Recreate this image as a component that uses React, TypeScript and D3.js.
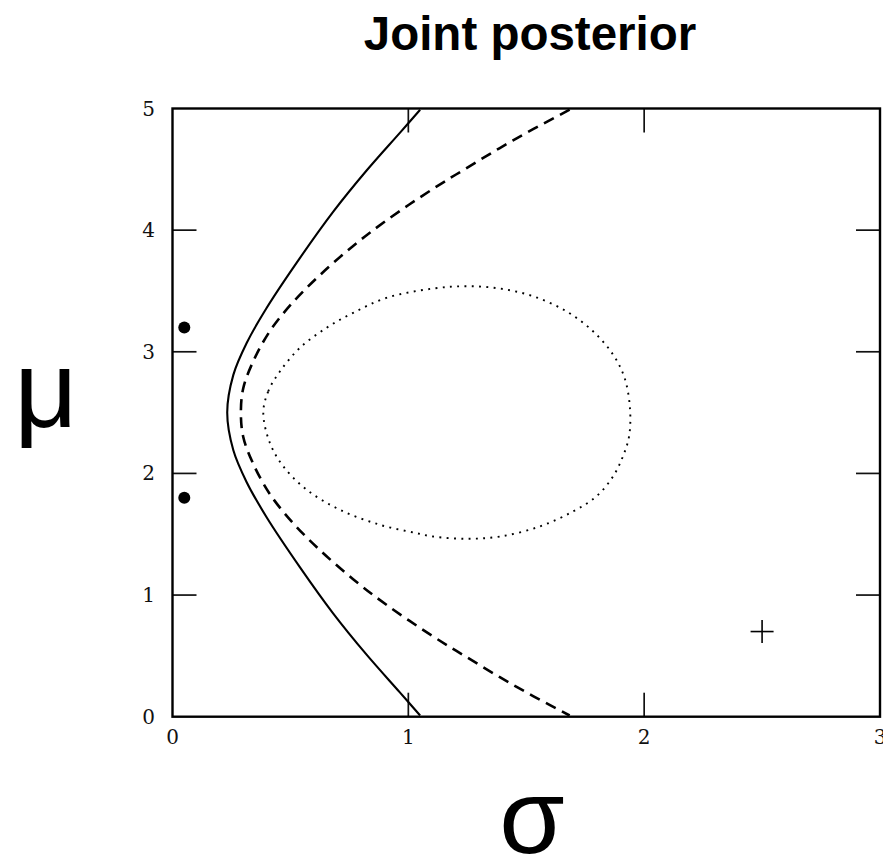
import React from "react";
import * as d3 from "d3";

// Contour lines of the joint posterior p(μ, σ | data), as (σ, μ) pairs
const solidContour: [number, number][] = [
  [1.05, 4.99], [0.964, 4.8], [0.823, 4.49], [0.681, 4.15], [0.54, 3.77],
  [0.399, 3.36], [0.314, 3.07], [0.258, 2.81], [0.232, 2.5], [0.258, 2.19],
  [0.314, 1.93], [0.399, 1.64], [0.54, 1.23], [0.681, 0.85], [0.823, 0.51],
  [0.964, 0.2], [1.05, 0.01],
];

const dashedContour: [number, number][] = [
  [1.684, 4.99], [1.529, 4.83], [1.388, 4.675], [1.247, 4.51], [1.105, 4.34],
  [0.907, 4.08], [0.766, 3.87], [0.625, 3.63], [0.512, 3.41], [0.413, 3.17],
  [0.342, 2.92], [0.3, 2.7], [0.29, 2.5], [0.3, 2.3], [0.342, 2.08],
  [0.413, 1.83], [0.512, 1.59], [0.625, 1.37], [0.766, 1.13], [0.907, 0.92],
  [1.105, 0.66], [1.247, 0.49], [1.388, 0.325], [1.529, 0.17], [1.684, 0.01],
];

const dottedContour: [number, number][] = [
  [0.385, 2.5], [0.406, 2.675], [0.456, 2.84], [0.54, 3.032], [0.653, 3.197],
  [0.766, 3.32], [0.907, 3.443], [1.105, 3.52], [1.247, 3.539], [1.388, 3.52],
  [1.529, 3.457], [1.67, 3.333], [1.783, 3.169], [1.868, 2.977], [1.917, 2.785],
  [1.94, 2.53], [1.936, 2.305], [1.91, 2.14], [1.868, 1.975], [1.797, 1.811],
  [1.698, 1.687], [1.557, 1.564], [1.388, 1.481], [1.247, 1.463], [1.105, 1.481],
  [1.035, 1.509], [0.879, 1.578], [0.71, 1.701], [0.569, 1.866], [0.47, 2.058],
  [0.413, 2.25],
];

// Observed data values, drawn at the left edge
const dataPoints: [number, number][] = [
  [0.05, 3.2],
  [0.05, 1.8],
];

// Posterior mean marker
const crossMarker: [number, number][] = [[2.5, 0.7]];

const xTicks = [0, 1, 2, 3];
const yTicks = [0, 1, 2, 3, 4, 5];

const W = 883;
const H = 863;
const plot = { left: 172.5, right: 880, top: 108.5, bottom: 716.7 };

export default function App() {
  const x = d3.scaleLinear().domain([0, 3]).range([plot.left, plot.right]);
  const y = d3.scaleLinear().domain([0, 5]).range([plot.bottom, plot.top]);

  const line = d3
    .line<[number, number]>()
    .x((d) => x(d[0]))
    .y((d) => y(d[1]))
    .curve(d3.curveCatmullRom.alpha(0.5));

  const closedLine = d3
    .line<[number, number]>()
    .x((d) => x(d[0]))
    .y((d) => y(d[1]))
    .curve(d3.curveCatmullRomClosed.alpha(0.5));

  const tickLen = 24;
  const tickFont = "'DejaVu Serif', serif";

  return (
    <svg
      width={W}
      height={H}
      viewBox={`0 0 ${W} ${H}`}
      style={{ position: "absolute", left: 0, top: 0, background: "#fff" }}
    >
      <defs>
        <clipPath id="plot-area">
          <rect
            x={plot.left}
            y={plot.top}
            width={plot.right - plot.left}
            height={plot.bottom - plot.top}
          />
        </clipPath>
      </defs>

      <text
        x={530}
        y={50}
        textAnchor="middle"
        fontFamily="'Liberation Sans', Arial, sans-serif"
        fontWeight="bold"
        fontSize={47.5}
        fill="#000"
      >
        Joint posterior
      </text>

      {/* ticks on all four sides */}
      <g stroke="#111" strokeWidth={1.7}>
        {yTicks
          .filter((t) => t > 0 && t < 5)
          .map((t) => (
            <g key={`yt${t}`}>
              <line x1={x(0)} x2={x(0) + tickLen} y1={y(t)} y2={y(t)} />
              <line x1={x(3)} x2={x(3) - tickLen} y1={y(t)} y2={y(t)} />
            </g>
          ))}
        {xTicks
          .filter((t) => t > 0 && t < 3)
          .map((t) => (
            <g key={`xt${t}`}>
              <line x1={x(t)} x2={x(t)} y1={y(0)} y2={y(0) - tickLen} />
              <line x1={x(t)} x2={x(t)} y1={y(5)} y2={y(5) + tickLen} />
            </g>
          ))}
      </g>

      <g clipPath="url(#plot-area)" fill="none" stroke="#000">
        <path d={line(solidContour) ?? ""} strokeWidth={2.1} />
        <path
          d={line(dashedContour) ?? ""}
          strokeWidth={2.6}
          strokeDasharray="11 7"
        />
        <path
          d={closedLine(dottedContour) ?? ""}
          strokeWidth={1.9}
          strokeDasharray="1.9 5.4"
        />
      </g>

      {dataPoints.map((d, i) => (
        <circle key={`pt${i}`} cx={x(d[0])} cy={y(d[1])} r={6} fill="#000" />
      ))}

      {crossMarker.map((d, i) => (
        <g key={`cm${i}`} stroke="#000" strokeWidth={1.6}>
          <line x1={x(d[0]) - 11.5} x2={x(d[0]) + 11.5} y1={y(d[1])} y2={y(d[1])} />
          <line x1={x(d[0])} x2={x(d[0])} y1={y(d[1]) - 11.5} y2={y(d[1]) + 11.5} />
        </g>
      ))}

      <rect
        x={plot.left}
        y={plot.top}
        width={plot.right - plot.left}
        height={plot.bottom - plot.top}
        fill="none"
        stroke="#000"
        strokeWidth={2.4}
      />

      <g fontFamily={tickFont} fontSize={20} fill="#111">
        {yTicks.map((t) => (
          <text
            key={`yl${t}`}
            x={155}
            y={y(t)}
            textAnchor="end"
            dominantBaseline="central"
          >
            {t}
          </text>
        ))}
        {xTicks.map((t) => (
          <text
            key={`xl${t}`}
            x={x(t)}
            y={737}
            textAnchor="middle"
            dominantBaseline="central"
          >
            {t}
          </text>
        ))}
      </g>

      <text
        x={46}
        y={427}
        textAnchor="middle"
        fontFamily="'Liberation Sans', Arial, sans-serif"
        fontSize={110}
        fill="#000"
      >
        μ
      </text>
      <text
        x={532}
        y={853}
        textAnchor="middle"
        fontFamily="'Liberation Sans', Arial, sans-serif"
        fontSize={106}
        fill="#000"
      >
        σ
      </text>
    </svg>
  );
}
